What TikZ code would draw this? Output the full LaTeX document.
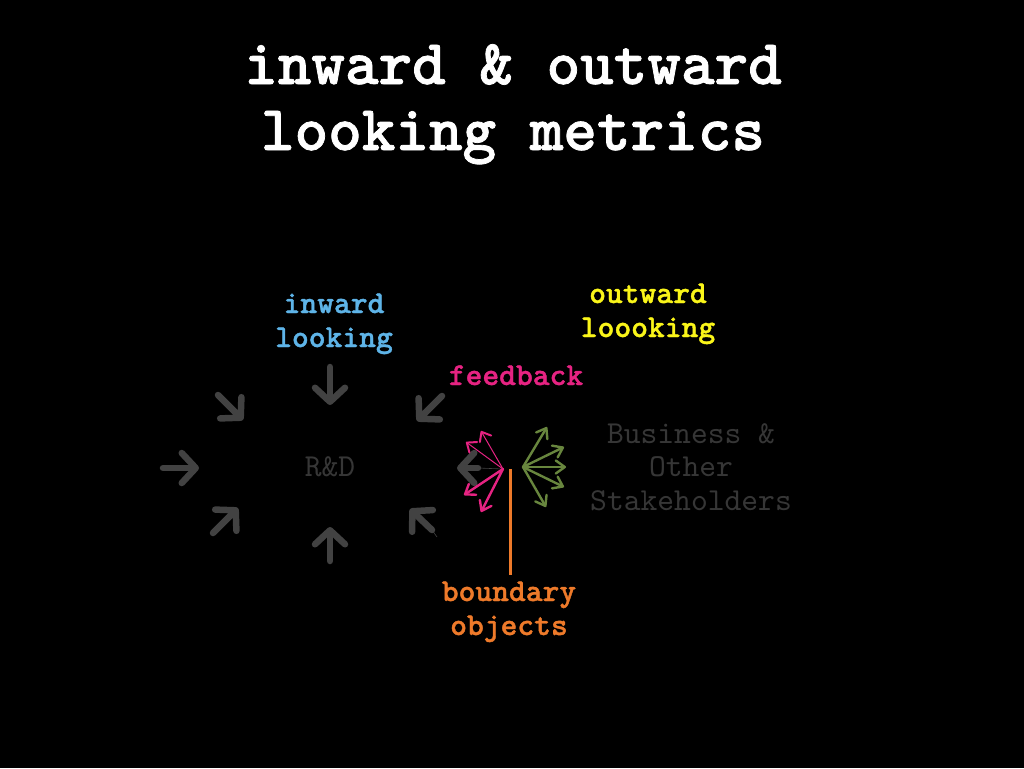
\documentclass[tikz,border=0pt]{standalone}
\usepackage{fontspec}
\newfontfamily\ttbold{lmmonolt10-bold.otf}[FakeBold=1.2]
\newfontfamily\ttreg{lmmono10-regular.otf}
\usetikzlibrary{arrows.meta}
\definecolor{cblue}{RGB}{94,180,232}
\definecolor{cyellow}{RGB}{250,245,25}
\definecolor{cpink}{RGB}{230,35,130}
\definecolor{corange}{RGB}{238,122,42}
\definecolor{cgreen}{RGB}{104,134,62}
\definecolor{cgrayarrow}{RGB}{66,66,66}
\definecolor{cgraytext}{RGB}{54,54,54}
\tikzset{
  title/.style={font=\fontsize{64}{70}\selectfont\ttbold, text=white, anchor=base, inner sep=0},
  lbl/.style={font=\fontsize{32}{36}\selectfont\ttbold, anchor=base, inner sep=0},
  glbl/.style={font=\fontsize{32}{36}\selectfont\ttreg, text=cgraytext, anchor=base, inner sep=0},
  grayarr/.style={draw=cgrayarrow, line width=6.5pt, line cap=round,
     -{Straight Barb[length=14pt,width=30pt,round]}},
  thinpink/.style={draw=cpink, line width=1pt, -{Straight Barb[length=8pt,width=13pt,line width=2pt,round]}},
  thickpink/.style={draw=cpink, line width=2.4pt, line cap=round, -{Straight Barb[length=9pt,width=13pt,round]}},
  greenarr/.style={draw=cgreen, line width=2.4pt, line cap=round, -{Straight Barb[length=9pt,width=13pt,round]}},
}
\begin{document}
\begin{tikzpicture}[x=1pt,y=-1pt]
\fill[black] (0,0) rectangle (1024,768);
\useasboundingbox (0,0) rectangle (1024,768);
% title
\node[title] (t1) at (513,84) {inward \& outward};
\node[title] (t2) at (513,150) {looking metrics};
% labels
\node[lbl, text=cblue] (in1) at (334,313) {inward};
\node[lbl, text=cblue] (in2) at (334,347) {looking};
\node[lbl, text=cyellow] (out1) at (648,303) {outward};
\node[lbl, text=cyellow] (out2) at (648,337) {loooking};
\node[lbl, text=cpink] (fb) at (516,385) {feedback};
\node[lbl, text=corange] (bo1) at (509,601) {boundary};
\node[lbl, text=corange] (bo2) at (509,635) {objects};
\node[glbl] (rd) at (330,476) {R\&D};
\node[glbl] (bs1) at (691,443) {Business \&};
\node[glbl] (bs2) at (691,476) {Other};
\node[glbl] (bs3) at (691,510) {Stakeholders};
% gray inward arrows
\draw[grayarr] (330,367) -- (330,405);
\draw[grayarr] (330,561) -- (330,527);
\draw[grayarr] (163,468) -- (199,468);
\draw[grayarr] (218,395) -- (243,420);
\draw[grayarr] (213,533) -- (238,508);
\draw[grayarr] (442,396) -- (417,421);
\draw[grayarr] (432,530) -- (410,509);
\draw[cgrayarrow, line width=0.6pt] (432,530) -- (437,537);
% feedback gray arrow
\coordinate (fo) at (503,469);
\draw[grayarr] (478,468) -- (457,468);
\draw[cgrayarrow, line width=0.6pt] (fo) -- (478,468);
% pink arrows
\draw[thinpink] (fo) -- (466,442);
\draw[thinpink] (fo) -- (481,431);
\draw[thickpink] (fo) -- (464,495);
\draw[thickpink] (fo) -- (481,512);
% boundary line
\draw[corange, line width=3pt] (510,469) -- (510,575);
% green arrows
\coordinate (go) at (523,467);
\draw[greenarr] (go) -- (547,427);
\draw[greenarr] (go) -- (564,447);
\draw[greenarr] (go) -- (566,467);
\draw[greenarr] (go) -- (564,487);
\draw[greenarr] (go) -- (546,507);
\end{tikzpicture}
\end{document}
